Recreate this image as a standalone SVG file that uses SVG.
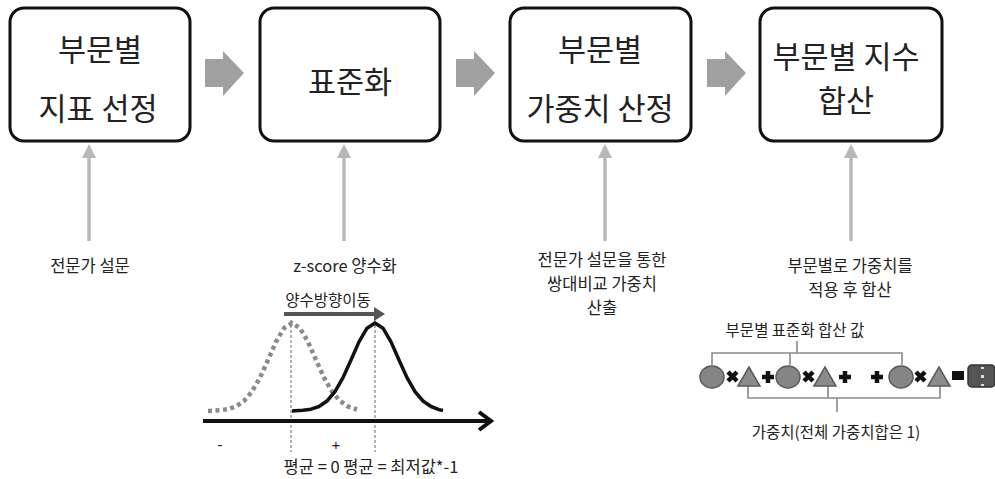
<svg xmlns="http://www.w3.org/2000/svg" width="995" height="479" viewBox="0 0 995 479">
<style>
text{font-family:"Noto Sans CJK KR","Noto Sans",sans-serif;fill:#222;text-anchor:middle}
.box{fill:#fff;stroke:#111;stroke-width:3}
.t28{font-size:30.5px}
.t16{font-size:16.5px}
.t14{font-size:15.5px}
.t17{font-size:16.5px}
.sym{font-family:"Liberation Sans",Arial,sans-serif;font-size:15px}
.blk{fill:#a0a0a0}
.up{stroke:#b8b8b8;stroke-width:3.5;fill:none}
.uph{fill:#b8b8b8}
.brk{stroke:#8a8a8a;stroke-width:1.6;fill:none}
.circ{fill:#858585;stroke:#5a5a5a;stroke-width:1.5}
.tri{fill:#8c8c8c;stroke:#5a5a5a;stroke-width:1.5}
.op{stroke:#111;stroke-width:4.5;fill:none}
</style>
<rect width="995" height="479" fill="#fff"/>

<g id="node1"><rect class="box" x="10" y="8" width="180" height="133" rx="14"/>
<text class="t28"><tspan x="100" y="61">부문별</tspan><tspan x="98" y="120">지표 선정</tspan></text></g>
<g id="node2"><rect class="box" x="260" y="8" width="180" height="133" rx="14"/>
<text class="t28" x="350" y="93">표준화</text></g>
<g id="node3"><rect class="box" x="510" y="8" width="181" height="133" rx="14"/>
<text class="t28"><tspan x="600" y="61">부문별</tspan><tspan x="600" y="120">가중치 산정</tspan></text></g>
<g id="node4"><rect class="box" x="760" y="8" width="182" height="133" rx="14"/>
<text class="t28"><tspan x="846" y="68">부문별 지수</tspan><tspan x="846" y="112">합산</tspan></text></g>

<g id="connectors">
<polygon class="blk" points="205,59 223,59 223,51 244,73 223,96 223,87 205,87"/>
<polygon class="blk" points="456,59 474,59 474,51 495,73 474,96 474,87 456,87"/>
<polygon class="blk" points="707,59 725,59 725,51 746,73 725,96 725,87 707,87"/>
<line class="up" x1="89" y1="241" x2="89" y2="156"/><polygon class="uph" points="82,158 89,144 96,158"/>
<line class="up" x1="344" y1="241" x2="344" y2="156"/><polygon class="uph" points="337,158 344,144 351,158"/>
<line class="up" x1="605" y1="241" x2="605" y2="156"/><polygon class="uph" points="598,158 605,144 612,158"/>
<line class="up" x1="851" y1="241" x2="851" y2="156"/><polygon class="uph" points="844,158 851,144 858,158"/>
</g>

<g id="labels">
<text class="t16" x="90" y="272">전문가 설문</text>
<text class="t16" x="345" y="272">z-score 양수화</text>
<text class="t16"><tspan x="602" y="266">전문가 설문을 통한</tspan><tspan x="602" y="290">쌍대비교 가중치</tspan><tspan x="602" y="314">산출</tspan></text>
<text class="t16"><tspan x="850" y="272">부문별로 가중치를</tspan><tspan x="850" y="296">적용 후 합산</tspan></text>
</g>

<g id="chart">
<text class="t14" x="328" y="306">양수방향이동</text>
<line x1="284" y1="314" x2="378" y2="314" stroke="#555" stroke-width="4"/>
<polygon points="374,307 385,314 374,321" fill="#555"/>
<line x1="291" y1="320" x2="291" y2="452" stroke="#666" stroke-width="1" stroke-dasharray="3 2"/>
<line x1="375" y1="320" x2="375" y2="452" stroke="#666" stroke-width="1" stroke-dasharray="3 2"/>
<polyline fill="none" stroke="#8a8a8a" stroke-width="4.5" stroke-dasharray="4 3.5" points="208,411 212,410.8 220,410.3 228,409.2 236,406.5 244,401 252,391.6 260,377.6 268,360 276,341.9 284,328.2 292,323 300,328.2 308,341.9 316,360 324,377.6 332,391.6 340,401 348,406.5 357,409.5"/>
<polyline fill="none" stroke="#111" stroke-width="3.5" stroke-linejoin="round" points="292,411 295,410.8 303,410.3 311,409.2 319,406.5 327,401 335,391.6 343,377.6 351,360 359,341.9 367,328.2 375,323 383,328.2 391,341.9 399,360 407,377.6 415,391.6 423,401 431,406.5 439,409.6 443,410.5"/>
<line x1="203" y1="421" x2="489" y2="421" stroke="#111" stroke-width="4"/>
<polyline points="479,412 491,421 479,430" fill="none" stroke="#111" stroke-width="4"/>
<text class="sym" x="220" y="450">-</text>
<text class="sym" x="336" y="450">+</text>
<text class="t17" x="371" y="473">평균 = 0 평균 = 최저값*-1</text>
</g>

<g id="equation">
<text class="t14" x="795" y="336">부문별 표준화 합산 값</text>
<path class="brk" d="M797,341V353M712,365V353H902V365M790,353V365"/>
<path class="brk" d="M748,386V398H940V386M828,386V398M837,398V412"/>
<text class="t14" x="836" y="438">가중치(전체 가중치합은 1)</text>
<ellipse class="circ" cx="712" cy="377" rx="12" ry="11"/>
<ellipse class="circ" cx="788" cy="377" rx="12" ry="11"/>
<ellipse class="circ" cx="901" cy="377" rx="12" ry="11"/>
<polygon class="tri" points="738,386 749,367 760,386"/>
<polygon class="tri" points="814,386 825,367 836,386"/>
<polygon class="tri" points="928,386 939,367 950,386"/>
<path class="op" d="M728,372L737,381M737,372L728,381"/>
<path class="op" d="M804,372L813,381M813,372L804,381"/>
<path class="op" d="M916,372L925,381M925,372L916,381"/>
<path class="op" d="M762,377H774M768,371V383"/>
<path class="op" d="M839,377H851M845,371V383"/>
<path class="op" d="M871,377H883M877,371V383"/>
<rect x="952" y="371" width="12" height="9" fill="#111"/>
<rect x="968" y="365" width="27" height="22" rx="4" fill="#555" stroke="#333" stroke-width="1.5"/>
<rect x="981" y="367" width="3" height="2" fill="#ddd"/>
<rect x="981" y="375" width="3" height="3" fill="#ddd"/>
<rect x="981" y="384" width="3" height="2" fill="#ddd"/>
</g>
</svg>
